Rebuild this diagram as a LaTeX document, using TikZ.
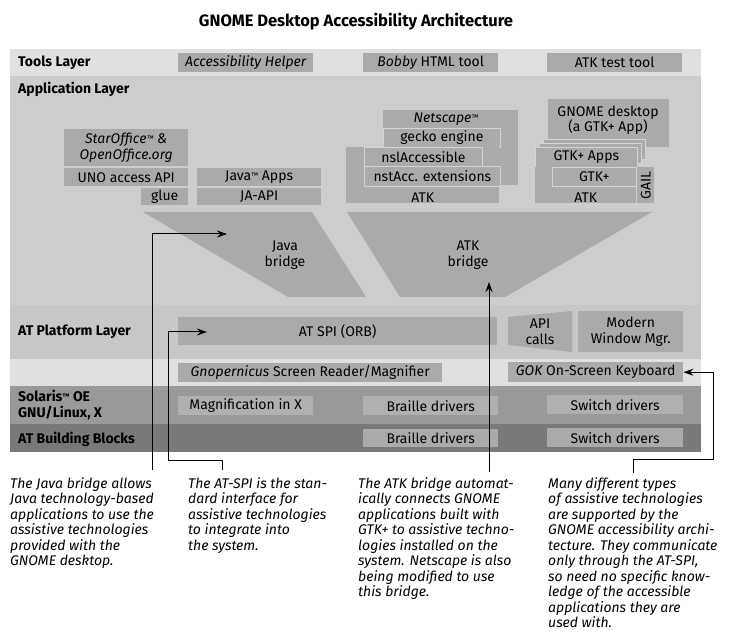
\documentclass[tikz,border=0pt]{standalone}
\usepackage{fontspec}
\setmainfont{Fira Sans}
\usetikzlibrary{arrows.meta}
\definecolor{toolband}{HTML}{E0E0E0}
\definecolor{appband}{HTML}{CDCDCD}
\definecolor{platband}{HTML}{C7C7C7}
\definecolor{osband}{HTML}{999999}
\definecolor{baseband}{HTML}{797979}
\definecolor{boxgray}{HTML}{AAAAAA}
\definecolor{lowbox}{HTML}{B0B0B0}
\definecolor{rim}{HTML}{D4D4D4}
\newcommand{\txtsize}{\fontsize{14}{15.5}\selectfont}
\newcommand{\tmark}{{\fontsize{8}{8}\selectfont\raisebox{2pt}{™}}}
\begin{document}
\begin{tikzpicture}[x=1pt,y=-1pt,line join=round,>={Stealth[length=10pt,width=7pt]},font=\txtsize,
	blk/.style={fill=boxgray,inner sep=0pt,anchor=north west,align=center},
	rimblk/.style={blk,draw=rim,line width=0.8pt},
	lowblk/.style={blk,fill=lowbox},
	layer/.style={font=\txtsize\bfseries,anchor=west,inner sep=0pt,align=left},
	caption/.style={font=\txtsize\itshape,anchor=north west,inner sep=0pt,align=left},
	lead/.style={->,line width=1pt}]
	\useasboundingbox (0,0) rectangle (729,636);
	\node[font=\fontsize{16.5}{18}\selectfont\bfseries] (title) at (356,22) {GNOME Desktop Accessibility Architecture};
	% layer bands
	\fill[toolband] (10,49) rectangle (701,76);
	\fill[appband] (10,76) rectangle (701,305);
	\fill[platband] (10,305) rectangle (701,359);
	\fill[toolband] (10,359) rectangle (701,386);
	\fill[osband] (10,386) rectangle (701,424);
	\fill[baseband] (10,424) rectangle (701,452);
	\node[layer] (tools) at (18,63) {Tools Layer};
	\node[layer] (apps) at (18,89) {Application Layer};
	\node[layer] (platform) at (18,332) {AT Platform Layer};
	\node[layer] (os) at (18,405) {Solaris\tmark{} OE\\GNU/Linux, X};
	\node[layer] (blocks) at (18,439) {AT Building Blocks};
	% tools
	\node[blk,minimum width=135pt,minimum height=19pt] (acchelp) at (178,53) {\itshape Accessibility Helper};
	\node[blk,minimum width=135pt,minimum height=19pt] (bobby) at (363,53) {{\itshape Bobby} HTML tool};
	\node[blk,minimum width=135pt,minimum height=19pt] (atktest) at (547,53) {ATK test tool};
	% office and java
	\node[blk,minimum width=124pt,minimum height=37pt] (office) at (64,129) {\itshape StarOffice\tmark{} \&\\\itshape OpenOffice.org};
	\node[blk,minimum width=124pt,minimum height=18pt] (uno) at (64,168) {UNO access API};
	\node[blk,minimum width=47pt,minimum height=17pt] (glue) at (141,188) {glue};
	\node[blk,minimum width=124pt,minimum height=18pt] (javaapps) at (197,168) {Java\tmark{} Apps};
	\node[blk,minimum width=124pt,minimum height=17pt] (jaapi) at (197,188) {JA-API};
	% netscape stack
	\node[blk,minimum width=135pt,minimum height=75pt] (netscape) at (383,110) {};
	\node (netscapelbl) at (446,119) {\itshape Netscape\tmark};
	\node[rimblk,minimum width=117pt,minimum height=19pt] (gecko) at (383,128) {gecko engine};
	\node[blk,minimum width=153pt,minimum height=56pt] (nsatk) at (346,147) {};
	\node[anchor=south,inner sep=1pt] (nsatklbl) at (nsatk.south) {ATK};
	\node[rimblk,minimum width=118pt,minimum height=19pt] (nslacc) at (364,147) {nslAccessible};
	\node[rimblk,minimum width=136pt,minimum height=20pt] (nstacc) at (364,166) {nstAcc. extensions};
	% gnome stack
	\node[blk,minimum width=121pt,minimum height=48pt] (gnome) at (548,99) {};
	\node[align=center] (gnomelbl) at (608,120) {GNOME desktop\\(a GTK+ App)};
	\node[rimblk,minimum width=102pt,minimum height=20pt] (sheetb) at (543,139) {};
	\node[rimblk,minimum width=102pt,minimum height=20pt] (sheeta) at (539,143) {};
	\node[rimblk,minimum width=102pt,minimum height=20pt] (gtkapps) at (535,147) {GTK+ Apps};
	\node[blk,minimum width=101pt,minimum height=36pt] (gtkatk) at (535,167) {};
	\node[anchor=south,inner sep=1pt] (gtkatklbl) at (gtkatk.south) {ATK};
	\node[rimblk,minimum width=84pt,minimum height=19pt] (gtk) at (552,167) {GTK+};
	\node[blk,minimum width=17pt,minimum height=36pt] (gail) at (637,167) {};
	\node[rotate=90] (gaillbl) at (gail.center) {GAIL};
	% bridges
	\fill[boxgray] (143,212) -- (312,212) -- (366,297) -- (288,297) -- cycle;
	\node[align=center] (javabridge) at (285,255) {Java\\bridge};
	\fill[boxgray] (347,212) -- (652,212) -- (505,297) -- (400,297) -- cycle;
	\node[align=center] (atkbridge) at (468,255) {ATK\\bridge};
	% platform
	\node[blk,minimum width=319pt,minimum height=28pt] (atspi) at (178,317) {AT SPI (ORB)};
	\fill[boxgray] (508,317) -- (572,311) -- (572,352) -- (508,345) -- cycle;
	\node[align=center] (apicalls) at (540,332) {API\\calls};
	\node[blk,minimum width=105pt,minimum height=41pt] (wm) at (578,311) {Modern\\Window Mgr.};
	\node[blk,minimum width=264pt,minimum height=19pt] (gnopernicus) at (178,363) {{\itshape Gnopernicus} Screen Reader/Magnifier};
	\node[blk,minimum width=175pt,minimum height=20pt] (gok) at (508,362) {{\itshape GOK} On-Screen Keyboard};
	% os and building blocks
	\node[lowblk,minimum width=135pt,minimum height=19pt] (magnify) at (178,396) {Magnification in X};
	\node[lowblk,minimum width=135pt,minimum height=19pt] (braille) at (363,396) {Braille drivers};
	\node[lowblk,minimum width=136pt,minimum height=19pt] (switch) at (547,395) {Switch drivers};
	\node[blk,minimum width=135pt,minimum height=18pt] (braillebb) at (363,429) {Braille drivers};
	\node[blk,minimum width=136pt,minimum height=19pt] (switchbb) at (547,428) {Switch drivers};
	% captions
	\node[caption] (capjava) at (10,477) {The Java bridge allows\\Java technology-based\\applications to use the\\assistive technologies\\provided with the\\GNOME desktop.};
	\node[caption] (capspi) at (188,477) {The AT-SPI is the stan-\\dard interface for\\assistive technologies\\to integrate into\\the system.};
	\node[caption] (capatk) at (358,477) {The ATK bridge automat-\\ically connects GNOME\\applications built with\\GTK+ to assistive techno-\\logies installed on the\\system. Netscape is also\\being modified to use\\this bridge.};
	\node[caption] (capmany) at (548,477) {Many different types\\of assistive technologies\\are supported by the\\GNOME accessibility archi-\\tecture. They communicate\\only through the AT-SPI,\\so need no specific know-\\ledge of the accessible\\applications they are\\used with.};
	% leaders
	\coordinate (javafoot) at (152,470);
	\coordinate (javatip) at (227,234);
	\coordinate (spifoot) at (222,470);
	\coordinate (spibend) at (168,461);
	\coordinate (spitip) at (207,332);
	\coordinate (atkfoot) at (489,472);
	\coordinate (atktip) at (489,282);
	\coordinate (gokfoot) at (633,473);
	\coordinate (gokbend) at (713,460);
	\draw[lead] (javafoot) |- (javatip);
	\draw[lead] (spifoot) |- (spibend) |- (spitip);
	\draw[lead] (atkfoot) -- (atktip);
	\draw[lead] (gokfoot) |- (gokbend) |- (gok.east);
\end{tikzpicture}
\end{document}
